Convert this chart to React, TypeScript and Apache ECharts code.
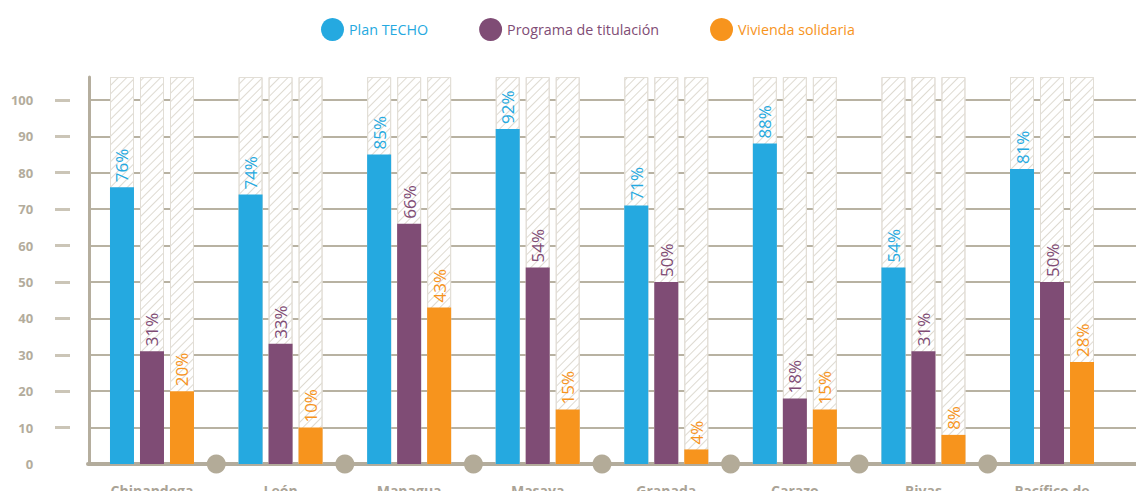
import React, { useEffect, useRef } from "react";
import * as echarts from "echarts";

const categories = ["Chinandega", "León", "Managua", "Masaya", "Granada", "Carazo", "Rivas", "Pacífico de"];
const planTecho = [76, 74, 85, 92, 71, 88, 54, 81];
const programaTitulacion = [31, 33, 66, 54, 50, 18, 31, 50];
const viviendaSolidaria = [20, 10, 43, 15, 4, 15, 8, 28];
const seriesNames = ["Plan TECHO", "Programa de titulación", "Vivienda solidaria"];
const seriesColors = ["#25a9e0", "#7f4c75", "#f7941d"];
const frameTop = 106.3;
const separatorPositions = [1, 2, 3, 4, 5, 6, 7];

const AXIS_MAX = frameTop;
const GRID_COLOR = "#b8b2a2";
const FONT = "'Open Sans', 'Noto Sans', sans-serif";

export default function App() {
  const ref = useRef<HTMLDivElement>(null);

  useEffect(() => {
    document.body.style.margin = "0";
    const chart = echarts.init(ref.current!, null, { renderer: "svg" });

    const values = [planTecho, programaTitulacion, viviendaSolidaria];

    const tickCount = 12; // 0..100 plus extent max
    const gridLineColors = Array.from({ length: tickCount }, (_, i) =>
      i === tickCount - 1 ? "rgba(0,0,0,0)" : GRID_COLOR
    );
    const dashColors = Array.from({ length: tickCount }, (_, i) =>
      i === 0 || i === tickCount - 1 ? "rgba(0,0,0,0)" : "#cbc5b7"
    );

    const hatchSeries = values.map((_, i) => ({
      type: "bar",
      name: "frame" + i,
      xAxisIndex: 1,
      yAxisIndex: 0,
      barWidth: 24,
      barGap: "25%",
      z: 1,
      silent: true,
      data: categories.map(() => frameTop),
      itemStyle: {
        color: "#ffffff",
        borderColor: "#e2ded6",
        borderWidth: 1,
        decal: {
          symbol: "rect",
          symbolSize: 1,
          dashArrayX: [[1, 0]],
          dashArrayY: [1, 5],
          rotation: -Math.PI / 4,
          color: "#dedad1",
        },
      },
    }));

    const dataSeries = values.map((v, i) => ({
      type: "bar",
      name: seriesNames[i],
      xAxisIndex: 0,
      yAxisIndex: 0,
      barWidth: 24,
      barGap: "25%",
      z: 3,
      data: v,
      itemStyle: { color: seriesColors[i] },
      label: {
        show: true,
        position: "top",
        distance: 5,
        rotate: 90,
        align: "left",
        verticalAlign: "middle",
        formatter: "{c}%",
        fontSize: 17,
        fontFamily: FONT,
        color: seriesColors[i],
      },
    }));

    chart.setOption({
      animation: false,
      backgroundColor: "#ffffff",
      legend: {
        left: 316,
        top: 13,
        icon: "circle",
        itemWidth: 23,
        itemHeight: 23,
        itemGap: 51,
        data: seriesNames.map((n, i) => ({
          name: n,
          textStyle: { color: seriesColors[i], fontSize: 14.3, fontFamily: FONT },
        })),
      },
      grid: [
        { left: 87.7, right: 19.7, top: 77, bottom: 27, outerBoundsMode: "none", containLabel: false },
        { left: 88, right: 0, top: 77, bottom: 27, outerBoundsMode: "none", containLabel: false },
        { left: 55, width: 15, top: 77, bottom: 27, outerBoundsMode: "none", containLabel: false },
      ],
      xAxis: [
        {
          type: "category",
          gridIndex: 0,
          data: categories,
          axisLine: { show: false },
          axisTick: { show: false },
          axisLabel: {
            margin: 19,
            fontSize: 14,
            fontWeight: "bold",
            color: "#aaa396",
            fontFamily: FONT,
          },
        },
        { type: "category", gridIndex: 0, data: categories, show: false, position: "bottom" },
        { type: "value", gridIndex: 0, min: 0, max: 8, show: false, position: "bottom" },
        {
          type: "value",
          gridIndex: 1,
          min: 0,
          max: 1,
          offset: 1,
          axisLine: { show: true, lineStyle: { color: "#b3ac9c", width: 4 } },
          axisTick: { show: false },
          axisLabel: { show: false },
          splitLine: { show: false },
        },
        { type: "value", gridIndex: 2, min: 0, max: 1, show: false },
      ],
      yAxis: [
        {
          type: "value",
          gridIndex: 0,
          min: 0,
          max: AXIS_MAX,
          interval: 10,
          offset: -1.5,
          axisLine: { show: true, lineStyle: { color: "#b5ae9e", width: 3 } },
          axisTick: { show: false },
          splitLine: { show: false },
          axisLabel: {
            margin: 56,
            showMaxLabel: false,
            fontSize: 13,
            fontWeight: "bold",
            color: "#b3ac9c",
            fontFamily: FONT,
          },
        },
        {
          type: "value",
          gridIndex: 1,
          min: 0,
          max: AXIS_MAX,
          interval: 10,
          axisLine: { show: false },
          axisTick: { show: false },
          axisLabel: { show: false },
          splitLine: { show: true, lineStyle: { color: gridLineColors, width: 2 } },
        },
        {
          type: "value",
          gridIndex: 2,
          min: 0,
          max: AXIS_MAX,
          interval: 10,
          axisLine: { show: false },
          axisTick: { show: false },
          axisLabel: { show: false },
          splitLine: { show: true, lineStyle: { color: dashColors, width: 3 } },
        },
      ],
      series: [
        ...hatchSeries,
        ...dataSeries,
        {
          type: "scatter",
          name: "separators",
          xAxisIndex: 2,
          yAxisIndex: 0,
          symbol: "circle",
          symbolSize: 19,
          z: 4,
          silent: true,
          itemStyle: { color: "#b3ab98", opacity: 1 },
          data: separatorPositions.map((p) => [p, 0]),
        },
      ],
    });

    return () => chart.dispose();
  }, []);

  return <div ref={ref} style={{ width: 1136, height: 491 }} />;
}
